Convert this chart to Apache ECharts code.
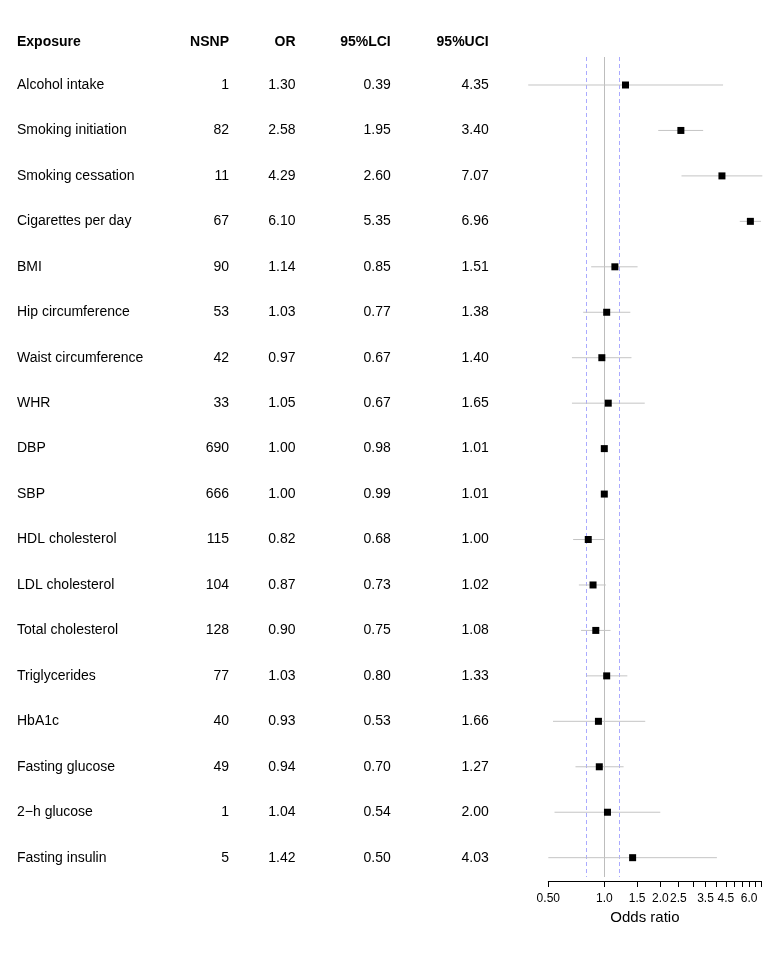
<!DOCTYPE html>
<html>
<head>
<meta charset="utf-8">
<script src="https://cdn.jsdelivr.net/npm/echarts@6/dist/echarts.min.js"></script>
<style>html,body{margin:0;padding:0;background:#fff}#c{width:780px;height:953px}</style>
</head>
<body>
<div id="c"></div>
<script>
const exposures = ["Alcohol intake","Smoking initiation","Smoking cessation","Cigarettes per day","BMI","Hip circumference","Waist circumference","WHR","DBP","SBP","HDL cholesterol","LDL cholesterol","Total cholesterol","Triglycerides","HbA1c","Fasting glucose","2\u2212h glucose","Fasting insulin"];
const nsnp = [1,82,11,67,90,53,42,33,690,666,115,104,128,77,40,49,1,5];
const orVals = [1.30,2.58,4.29,6.10,1.14,1.03,0.97,1.05,1.00,1.00,0.82,0.87,0.90,1.03,0.93,0.94,1.04,1.42];
const lci = [0.39,1.95,2.60,5.35,0.85,0.77,0.67,0.67,0.98,0.99,0.68,0.73,0.75,0.80,0.53,0.70,0.54,0.50];
const uci = [4.35,3.40,7.07,6.96,1.51,1.38,1.40,1.65,1.01,1.01,1.00,1.02,1.08,1.33,1.66,1.27,2.00,4.03];
const headers = ["Exposure","NSNP","OR","95%LCI","95%UCI"];
const tickValues = [0.5,1,1.5,2,2.5,3,3.5,4,4.5,5,5.5,6,6.5,7];
const labelValues = [0.5,1,1.5,2,2.5,3.5,4.5,6];
const labelTexts = ["0.50","1.0","1.5","2.0","2.5","3.5","4.5","6.0"];
const refLines = [0.8,1.2];

const rows = exposures.map((_, i) => i + 1);
const FONT = "'Liberation Sans', Arial, Helvetica, sans-serif";
const GRID_LEFT = 548.3;
const Y_MIN = 0.384, Y_MAX = 18.425;

function tableAxis(name, texts, offset, align) {
  return {
    type: 'value', inverse: true, min: Y_MIN, max: Y_MAX, position: 'left', offset: offset,
    axisLine: {show: false}, axisTick: {show: false}, splitLine: {show: false},
    axisLabel: {
      customValues: rows, margin: 0, align: align,
      color: '#000', fontSize: 14, fontWeight: 'normal', fontFamily: FONT,
      formatter: v => String(texts[Math.round(v) - 1])
    },
    name: name, nameLocation: 'start', nameGap: 15,
    nameTextStyle: {align: align, verticalAlign: 'middle', color: '#000', fontSize: 14, fontWeight: 'bold', fontFamily: FONT}
  };
}

const chart = echarts.init(document.getElementById('c'), null, {renderer: 'canvas'});
chart.setOption({
  animation: false,
  backgroundColor: '#fff',
  grid: {left: GRID_LEFT, right: 18.5, top: 57, bottom: 76, containLabel: false},
  xAxis: {
    type: 'log', logBase: Math.E, min: 0.5, max: 7, offset: 4,
    axisLine: {show: true, lineStyle: {color: '#000', width: 1}},
    axisTick: {show: true, length: 6, customValues: tickValues, lineStyle: {color: '#000'}},
    splitLine: {show: false}, minorTick: {show: false},
    axisLabel: {
      customValues: labelValues, margin: 12, color: '#000', fontSize: 12, fontWeight: 'normal', fontFamily: FONT,
      formatter: v => { const k = labelValues.findIndex(t => Math.abs(t - v) < 1e-6); return k >= 0 ? labelTexts[k] : ''; }
    },
    name: 'Odds ratio', nameLocation: 'middle', nameGap: 29,
    nameTextStyle: {color: '#000', fontSize: 15, fontWeight: 'normal', fontFamily: FONT, padding: [0, 20, 0, 0]}
  },
  yAxis: [
    {type: 'value', inverse: true, min: Y_MIN, max: Y_MAX, show: false},
    tableAxis(headers[0], exposures, GRID_LEFT - 17, 'left'),
    tableAxis(headers[1], nsnp, GRID_LEFT - 229, 'right'),
    tableAxis(headers[2], orVals.map(v => v.toFixed(2)), GRID_LEFT - 295.5, 'right'),
    tableAxis(headers[3], lci.map(v => v.toFixed(2)), GRID_LEFT - 390.7, 'right'),
    tableAxis(headers[4], uci.map(v => v.toFixed(2)), GRID_LEFT - 488.7, 'right')
  ],
  series: [
    {
      type: 'line', yAxisIndex: 0, z: 1, data: [], silent: true,
      markLine: {
        silent: true, symbol: 'none', label: {show: false}, z: 1,
        data: [
          {xAxis: 1, lineStyle: {color: '#bdbdbd', type: 'solid', width: 1}},
          {xAxis: refLines[0], lineStyle: {color: '#aaaaff', type: [4, 3], width: 1}},
          {xAxis: refLines[1], lineStyle: {color: '#aaaaff', type: [4, 3], width: 1}}
        ]
      }
    },
    {
      type: 'custom', yAxisIndex: 0, clip: false, z: 2,
      data: rows.map((r, i) => [lci[i], uci[i], r]),
      encode: {x: [0, 1], y: 2},
      renderItem: (params, api) => {
        const a = api.coord([api.value(0), api.value(2)]);
        const b = api.coord([api.value(1), api.value(2)]);
        return {type: 'line', shape: {x1: a[0], y1: a[1], x2: b[0], y2: b[1]}, style: {stroke: '#c4c4c4', lineWidth: 1}};
      }
    },
    {
      type: 'scatter', yAxisIndex: 0, clip: false, z: 5,
      symbol: 'rect', symbolSize: 7,
      itemStyle: {color: '#000', opacity: 1},
      data: rows.map((r, i) => [orVals[i], r])
    }
  ]
});
</script>
</body>
</html>
